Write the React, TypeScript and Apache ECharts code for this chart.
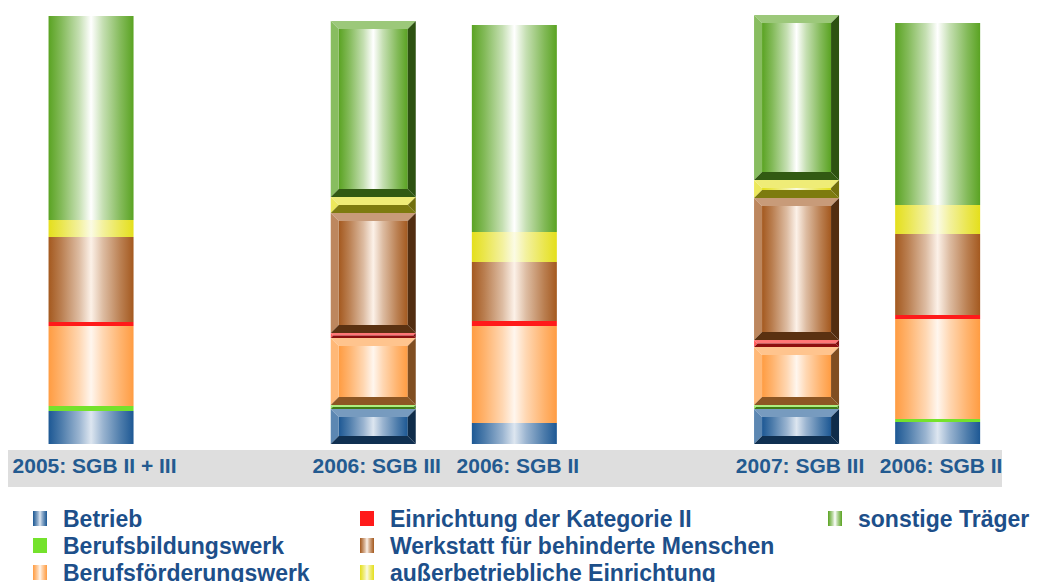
import React, { useEffect, useRef } from 'react';
import * as echarts from 'echarts';

// Category slots (empty strings are spacing slots without bars)
const categories = ['2005: SGB II + III', '', '2006: SGB III', '2006: SGB II', '', '2007: SGB III', '2006: SGB II'];

const seriesNames = [
  'Betrieb',
  'Berufsbildungswerk',
  'Berufsförderungswerk',
  'Einrichtung der Kategorie II',
  'Werkstatt für behinderte Menschen',
  'außerbetriebliche Einrichtung',
  'sonstige Träger',
];

// Segment sizes per slot (arbitrary units)
const betrieb = [33, null, 35, 21, null, 35, 22];
const berufsbildungswerk = [5, null, 4, 0, null, 4, 3];
const berufsfoerderungswerk = [80, null, 67, 97, null, 58, 100];
const kategorieII = [4, null, 5, 5, null, 7, 4];
const werkstatt = [85, null, 120, 59, null, 142, 81];
const ausserbetrieblich = [17, null, 16, 30, null, 18, 29];
const sonstige = [204, null, 176, 207, null, 165, 182];

const seriesValues = [betrieb, berufsbildungswerk, berufsfoerderungswerk, kategorieII, werkstatt, ausserbetrieblich, sonstige];

// style: slots drawn with bevelled 3D look
const BEVEL_SLOTS = [2, 5];
const EDGE = ['#1d5894', '#74e22c', '#ff9c42', '#ff1a1a', '#a4591f', '#e4df1c', '#5aa322'];
const CENTER = ['#dde6f0', null, '#fff6ee', null, '#fcf1e8', '#fbfbe4', '#ffffff'];
const BAR_W = 85;
const CH = 620; // chart div height (page shows the top 582px)

function hexToRgb(h: string) {
  const n = parseInt(h.slice(1), 16);
  return [(n >> 16) & 255, (n >> 8) & 255, n & 255];
}
function mix(a: string, b: string, t: number) {
  const A = hexToRgb(a), B = hexToRgb(b);
  const c = A.map((v, i) => Math.round(v + (B[i] - v) * t));
  return 'rgb(' + c.join(',') + ')';
}
function fillFor(i: number) {
  const edge = EDGE[i];
  const center = CENTER[i];
  if (!center) return edge;
  return new echarts.graphic.LinearGradient(0, 0, 1, 0, [
    { offset: 0, color: edge },
    { offset: 0.15, color: mix(edge, center, 0.25) },
    { offset: 0.36, color: mix(edge, center, 0.65) },
    { offset: 0.5, color: center },
    { offset: 0.64, color: mix(edge, center, 0.65) },
    { offset: 0.85, color: mix(edge, center, 0.25) },
    { offset: 1, color: edge },
  ]);
}

export default function App() {
  const ref = useRef<HTMLDivElement>(null);
  useEffect(() => {
    if (!ref.current) return;
    const chart = echarts.init(ref.current, undefined, { renderer: 'svg' });

    const barSeries = seriesNames.map((name, i) => ({
      name,
      type: 'bar',
      stack: 'total',
      barWidth: BAR_W,
      silent: true,
      data: seriesValues[i].map((v, k) => (BEVEL_SLOTS.includes(k) ? null : v)),
      itemStyle: { color: fillFor(i) },
      emphasis: { disabled: true },
    }));

    const bevelData: number[][] = [];
    BEVEL_SLOTS.forEach((slot) => {
      let cum = 0;
      seriesValues.forEach((arr, i) => {
        const v = arr[slot] as number;
        if (v > 0) {
          bevelData.push([slot, cum, cum + v, i]);
          cum += v;
        }
      });
    });

    const customSeries = {
      name: '3D',
      type: 'custom',
      silent: true,
      encode: { x: 0, y: [1, 2] },
      data: bevelData,
      renderItem: (params: any, api: any) => {
        const slot = api.value(0);
        const y0 = api.value(1);
        const y1 = api.value(2);
        const idx = api.value(3);
        const pb = api.coord([slot, y0]);
        const pt = api.coord([slot, y1]);
        const L = pb[0] - BAR_W / 2;
        const R = L + BAR_W;
        const B = pb[1];
        const T = pt[1];
        const h = B - T;
        const b = Math.min(8, h / 2);
        const edge = EDGE[idx];
        const topC = mix(edge, '#ffffff', 0.4);
        const leftC = mix(edge, '#ffffff', 0.28);
        const rightC = mix(edge, '#000000', 0.5);
        const botC = mix(edge, '#000000', 0.45);
        const children: any[] = [];
        if (h - 2 * b > 0.5) {
          children.push({
            type: 'rect',
            shape: { x: L + b, y: T + b, width: BAR_W - 2 * b, height: h - 2 * b },
            style: { fill: fillFor(idx) },
          });
        }
        children.push({
          type: 'polygon',
          shape: { points: [[L, T], [R, T], [R - b, T + b], [L + b, T + b]] },
          style: { fill: topC },
        });
        children.push({
          type: 'polygon',
          shape: { points: [[L, T], [L + b, T + b], [L + b, B - b], [L, B]] },
          style: { fill: leftC },
        });
        children.push({
          type: 'polygon',
          shape: { points: [[R, T], [R, B], [R - b, B - b], [R - b, T + b]] },
          style: { fill: rightC },
        });
        children.push({
          type: 'polygon',
          shape: { points: [[L, B], [R, B], [R - b, B - b], [L + b, B - b]] },
          style: { fill: botC },
        });
        return { type: 'group', children };
      },
    };

    const legendCommon = {
      orient: 'vertical',
      padding: 0,
      itemWidth: 14,
      itemHeight: 15,
      itemGap: 4,
      icon: 'rect',
      selectedMode: false,
      textStyle: {
        fontFamily: 'Liberation Sans',
        fontWeight: 'bold',
        fontSize: 23,
        lineHeight: 23,
        color: '#1d4f8a',
        padding: [0, 0, 0, 11],
      },
    };

    chart.setOption({
      animation: false,
      backgroundColor: '#ffffff',
      grid: { left: 20.5, right: 30.8, top: 4, bottom: CH - 444, outerBoundsMode: 'none', containLabel: false },
      xAxis: {
        type: 'category',
        data: categories,
        axisLine: { show: false },
        axisTick: { show: false },
        splitLine: { show: false },
        axisLabel: {
          interval: 0,
          margin: 11,
          fontFamily: 'Liberation Sans',
          fontWeight: 'bold',
          fontSize: 21,
          lineHeight: 20,
          color: '#235a90',
          padding: [0, 0, 0, 7],
        },
      },
      yAxis: { type: 'value', min: 0, max: 440, show: false },
      legend: [
        { ...legendCommon, left: 33, top: 507, data: seriesNames.slice(0, 3) },
        { ...legendCommon, left: 360, top: 507, data: seriesNames.slice(3, 6) },
        { ...legendCommon, left: 828, top: 507, data: seriesNames.slice(6) },
      ],
      graphic: [
        {
          type: 'rect',
          z: -10,
          silent: true,
          shape: { x: 8, y: 450, width: 994, height: 37 },
          style: { fill: '#dedede' },
        },
      ],
      series: [...barSeries, customSeries],
    });

    return () => chart.dispose();
  }, []);

  return <div ref={ref} style={{ position: 'fixed', left: 0, top: 0, width: 1039, height: CH }} />;
}
